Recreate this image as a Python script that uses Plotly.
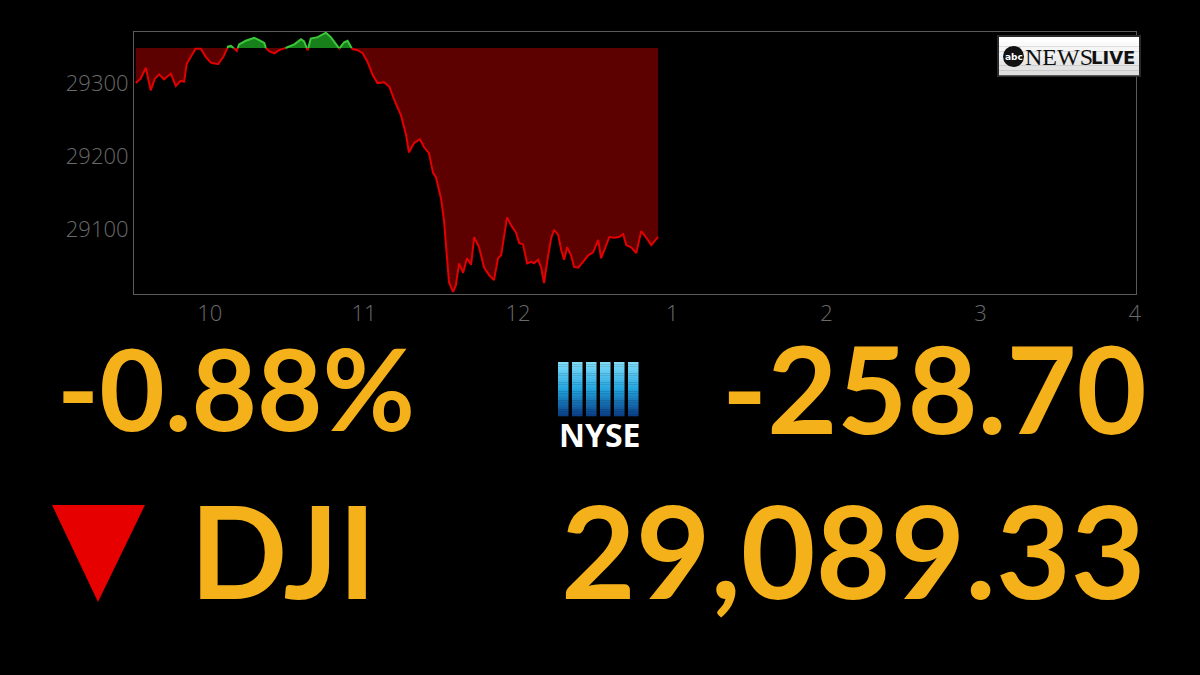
import plotly.graph_objects as go

# ---------------- data ----------------
prev_close = 29348.03
last_value = 29089.33
change_pts = "-258.70"
change_pct = "-0.88%"
last_label = "29,089.33"
index_name = "DJI"

# minutes after the 9:30 open
minutes = [1.2, 3.1, 5.1, 7.0, 8.6, 10.3, 12.2, 14.8, 16.8, 18.7, 20.0, 21.0, 22.6, 24.5,
           26.5, 28.4, 30.4, 33.2, 35.3, 37.1, 38.2, 39.5, 40.5, 41.4, 44.0, 47.3, 49.2,
           51.2, 51.8, 53.1, 55.1, 57.0, 59.0, 60.9, 62.9, 65.5, 66.7, 68.1, 69.3, 72.0,
           75.2, 77.1, 79.1, 80.4, 82.3, 83.6, 84.7, 85.6, 87.5, 89.5, 91.4, 93.4, 95.3,
           97.9, 99.9, 101.8, 104.4, 106.4, 107.5, 109.5, 111.8, 113.4, 115.3, 116.9,
           118.0, 120.0, 121.2, 122.3, 123.1, 124.7, 125.8, 127.0, 128.6, 130.1, 131.7,
           132.9, 134.8, 136.8, 138.7, 140.6, 142.2, 143.4, 145.7, 147.3, 149.2, 150.4,
           151.9, 153.5, 155.1, 156.2, 157.8, 159.0, 160.1, 161.7, 162.9, 164.0, 165.6,
           166.8, 167.9, 169.1, 170.6, 171.8, 173.4, 175.3, 177.3, 179.2, 180.4, 181.2,
           182.3, 183.5, 185.5, 187.4, 189.3, 190.9, 192.1, 194.0, 196.0, 196.7, 197.9,
           199.9, 201.8, 204.5]
values = [29300, 29306, 29321, 29290, 29306, 29312, 29305, 29313, 29296, 29303, 29302, 29326,
          29336, 29347, 29347, 29336, 29328, 29326, 29336, 29350, 29351, 29347.5, 29344,
          29353, 29358, 29362, 29359, 29355, 29348.4, 29343.8, 29340.7, 29345.2, 29347.5,
          29349.7, 29353, 29360, 29357, 29345, 29361, 29363, 29369, 29363, 29353, 29347.5,
          29356, 29358, 29349.7, 29346.6, 29345, 29341, 29329, 29311, 29300, 29301, 29295,
          29277, 29256, 29229, 29205, 29218, 29223, 29212, 29204, 29177, 29171, 29142,
          29110, 29068, 29027, 29014, 29023, 29053, 29040, 29060, 29051, 29089, 29075,
          29047, 29037, 29030, 29060, 29064, 29116, 29105, 29095, 29081, 29079, 29053,
          29055, 29053, 29058, 29047, 29026, 29064, 29088, 29099, 29092, 29071, 29058,
          29075, 29064, 29048, 29047, 29055, 29064, 29068, 29078, 29085, 29060, 29071,
          29089, 29088, 29089, 29093, 29078, 29075, 29067, 29078, 29097, 29088, 29078,
          29089.33]

x_tick_minutes = [30, 90, 150, 210, 270, 330, 390]
x_tick_labels = ["10", "11", "12", "1", "2", "3", "4"]
y_tick_values = [29100, 29200, 29300]
y_tick_labels = ["29100", "29200", "29300"]

# ---------------- split at the previous close ----------------
xs, ys = [], []
for i in range(len(minutes)):
    if i > 0:
        a, b = values[i - 1] - prev_close, values[i] - prev_close
        if a * b < 0:
            t = a / (a - b)
            xs.append(minutes[i - 1] + t * (minutes[i] - minutes[i - 1]))
            ys.append(prev_close)
    xs.append(minutes[i])
    ys.append(values[i])

low = [min(v, prev_close) for v in ys]
high = [max(v, prev_close) for v in ys]
red_line = [v if v <= prev_close + 1e-9 else None for v in ys]
green_line = [v if v >= prev_close - 1e-9 else None for v in ys]
base = [prev_close] * len(xs)

fig = go.Figure()
fig.add_trace(go.Scatter(x=xs, y=base, mode="lines", line=dict(width=0), hoverinfo="skip", showlegend=False))
fig.add_trace(go.Scatter(x=xs, y=low, mode="lines", line=dict(width=0), fill="tonexty",
                         fillcolor="#5c0000", hoverinfo="skip", showlegend=False))
fig.add_trace(go.Scatter(x=xs, y=base, mode="lines", line=dict(width=0), hoverinfo="skip", showlegend=False))
fig.add_trace(go.Scatter(x=xs, y=high, mode="lines", line=dict(width=0), fill="tonexty",
                         fillcolor="#17801a", hoverinfo="skip", showlegend=False))
fig.add_trace(go.Scatter(x=xs, y=red_line, mode="lines", line=dict(color="#e30000", width=2),
                         connectgaps=False, showlegend=False))
fig.add_trace(go.Scatter(x=xs, y=green_line, mode="lines", line=dict(color="#3cc83c", width=2),
                         connectgaps=False, showlegend=False))

# ---------------- geometry helpers (pixel -> paper) ----------------
PL, PR, PT, PB = 134, 1136, 32, 294
def fx(p):
    return (p - PL) / (PR - PL)
def fy(p):
    return (PB - p) / (PB - PT)

shapes = []
annotations = []
GOLD = "#f5b11a"
BIG_FONT = "Lato"

def big_text(txt, x, y, anchor, size, box_h=None):
    ann = dict(text="<b>" + txt + "</b>", x=fx(x), y=fy(y), xref="paper", yref="paper",
               xanchor=anchor, yanchor="middle", showarrow=False,
               font=dict(family=BIG_FONT, size=size, color=GOLD))
    if box_h:
        ann["height"] = box_h
    annotations.append(ann)

big_text(change_pct, 55, 387, "left", 113, 112)
big_text(change_pts, 1149, 387, "right", 121, 114)
big_text(index_name, 188, 549, "left", 128)
big_text(last_label, 1148, 549, "right", 129)

# red down triangle
shapes.append(dict(type="path", xref="paper", yref="paper",
                   path=f"M {fx(52)},{fy(505)} L {fx(145)},{fy(505)} L {fx(98)},{fy(602)} Z",
                   fillcolor="#e60000", line=dict(width=0)))

# NYSE logo bars with vertical gradient
def lerp(c1, c2, t):
    return "#%02x%02x%02x" % tuple(int(round(c1[k] + (c2[k] - c1[k]) * t)) for k in range(3))
top_c, mid_c, bot_c = (130, 222, 250), (35, 165, 225), (10, 60, 130)
bar_top, bar_bot = 362, 416
n_strips = 24
for b in range(6):
    bx0 = 558 + b * 14.0
    bx1 = bx0 + 10.5
    for s in range(n_strips):
        t = (s + 0.5) / n_strips
        col = lerp(top_c, mid_c, t / 0.5) if t < 0.5 else lerp(mid_c, bot_c, (t - 0.5) / 0.5)
        y0 = bar_top + (bar_bot - bar_top) * s / n_strips
        y1 = bar_top + (bar_bot - bar_top) * (s + 1) / n_strips + 0.3
        shapes.append(dict(type="rect", xref="paper", yref="paper",
                           x0=fx(bx0), x1=fx(bx1), y0=fy(y1), y1=fy(y0),
                           fillcolor=col, line=dict(width=0)))
annotations.append(dict(text="<b>NYSE</b>", x=fx(599.5), y=fy(434), xref="paper", yref="paper",
                        xanchor="center", yanchor="middle", showarrow=False,
                        font=dict(family="Open Sans", size=32, color="#ffffff")))

# ABC News Live logo
shapes.append(dict(type="rect", xref="paper", yref="paper", x0=fx(997), x1=fx(1141),
                   y0=fy(77), y1=fy(35), fillcolor="#2a2a2a", line=dict(width=0)))
for s in range(8):
    t = s / 7
    col = lerp((255, 255, 255), (222, 222, 222), t)
    y0 = 37 + 38 * s / 8
    y1 = 37 + 38 * (s + 1) / 8 + 0.3
    shapes.append(dict(type="rect", xref="paper", yref="paper", x0=fx(999), x1=fx(1139),
                       y0=fy(y1), y1=fy(y0), fillcolor=col, line=dict(width=0)))
shapes.append(dict(type="circle", xref="paper", yref="paper", x0=fx(1003), x1=fx(1024),
                   y0=fy(67), y1=fy(46), fillcolor="#111111", line=dict(width=0)))
annotations.append(dict(text="<b>abc</b>", x=fx(1013.5), y=fy(56.5), xref="paper", yref="paper",
                        xanchor="center", yanchor="middle", showarrow=False,
                        font=dict(family="DejaVu Sans", size=9, color="#ffffff")))
annotations.append(dict(text="NEWS", x=fx(1023), y=fy(57), xref="paper", yref="paper",
                        xanchor="left", yanchor="middle", showarrow=False,
                        font=dict(family="Liberation Serif", size=24, color="#111111")))
annotations.append(dict(text="<b>LIVE</b>", x=fx(1137), y=fy(57), xref="paper", yref="paper",
                        xanchor="right", yanchor="middle", showarrow=False,
                        font=dict(family="DejaVu Sans", size=18, color="#111111")))

tick_font = dict(family="Open Sans", size=22, color="#6a6a6a", weight=300)
fig.update_layout(
    width=1200, height=675,
    margin=dict(l=PL, r=1200 - PR, t=PT, b=675 - PB),
    paper_bgcolor="#000000", plot_bgcolor="#000000",
    showlegend=False,
    shapes=shapes, annotations=annotations,
    xaxis=dict(range=[0.5, 390.5], tickvals=x_tick_minutes, ticktext=x_tick_labels,
               showgrid=False, zeroline=False, showline=True, mirror=True,
               linecolor="#5a5a5a", linewidth=1, ticks="", tickfont=tick_font),
    yaxis=dict(range=[29011, 29370], tickvals=y_tick_values, ticktext=y_tick_labels,
               showgrid=False, zeroline=False, showline=True, mirror=True,
               linecolor="#5a5a5a", linewidth=1, ticks="", tickfont=tick_font),
)

fig.write_html("out.html", config={"displayModeBar": False})

# remove the default page margin so the figure sits at the window origin
with open("out.html", "r", encoding="utf-8") as f:
    html = f.read()
html = html.replace("<head>", "<head><style>html,body{margin:0;padding:0;background:#000;overflow:hidden;}</style>", 1)
with open("out.html", "w", encoding="utf-8") as f:
    f.write(html)
